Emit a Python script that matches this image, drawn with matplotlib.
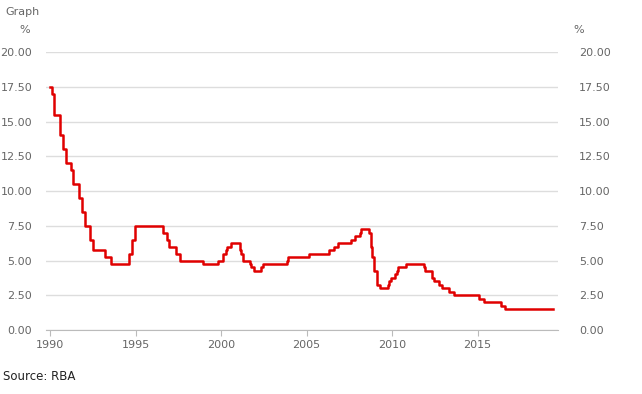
import pandas as pd
import matplotlib.pyplot as plt
import matplotlib.dates as mdates

# RBA cash rate target: dates of change and new rate (%)
ChangeDates = ['1990-01-01', '1990-02-15', '1990-04-04', '1990-08-02', '1990-10-15',
               '1990-12-18', '1991-04-04', '1991-05-16', '1991-09-03', '1991-11-06',
               '1992-01-08', '1992-05-06', '1992-07-08', '1993-03-23', '1993-07-30',
               '1994-08-17', '1994-10-24', '1994-12-14', '1996-07-31', '1996-11-06',
               '1996-12-11', '1997-05-23', '1997-07-30', '1998-12-02', '1999-11-03',
               '2000-02-02', '2000-04-05', '2000-05-03', '2000-08-02', '2001-02-07',
               '2001-03-07', '2001-04-04', '2001-09-05', '2001-10-03', '2001-12-05',
               '2002-05-08', '2002-06-05', '2003-11-05', '2003-12-03', '2005-03-02',
               '2006-05-03', '2006-08-09', '2006-11-08', '2007-08-08', '2007-11-07',
               '2008-02-06', '2008-03-05', '2008-09-03', '2008-10-08', '2008-11-05',
               '2008-12-03', '2009-02-04', '2009-04-08', '2009-10-07', '2009-11-04',
               '2009-12-02', '2010-03-03', '2010-04-07', '2010-05-05', '2010-11-03',
               '2011-11-02', '2011-12-07', '2012-05-02', '2012-06-06', '2012-10-03',
               '2012-12-05', '2013-05-08', '2013-08-07', '2015-02-04', '2015-05-06',
               '2016-05-04', '2016-08-03', '2019-05-31']
Rates = [17.5, 17.0, 15.5, 14.0, 13.0,
         12.0, 11.5, 10.5, 9.5, 8.5,
         7.5, 6.5, 5.75, 5.25, 4.75,
         5.5, 6.5, 7.5, 7.0, 6.5,
         6.0, 5.5, 5.0, 4.75, 5.0,
         5.5, 5.75, 6.0, 6.25, 5.75,
         5.5, 5.0, 4.75, 4.5, 4.25,
         4.5, 4.75, 5.0, 5.25, 5.5,
         5.75, 6.0, 6.25, 6.5, 6.75,
         7.0, 7.25, 7.0, 6.0, 5.25,
         4.25, 3.25, 3.0, 3.25, 3.5,
         3.75, 4.0, 4.25, 4.5, 4.75,
         4.5, 4.25, 3.75, 3.5, 3.25,
         3.0, 2.75, 2.5, 2.25, 2.0,
         1.75, 1.5, 1.5]
YTicks = [0, 2.5, 5, 7.5, 10, 12.5, 15, 17.5, 20]

TXT = '#666666'
RED = '#e00000'

dates = pd.to_datetime(ChangeDates)
ylabels = ['%.2f' % v for v in YTicks]

fig = plt.figure(figsize=(6.42, 3.94), dpi=100)
ax = fig.add_axes([0.0717, 0.1624, 0.7975, 0.7056])

ax.plot(dates, Rates, color=RED, lw=1.8, drawstyle='steps-post')

ax.set_ylim(0, 20)
ax.set_xlim(pd.Timestamp('1989-10-08'), pd.Timestamp('2019-09-13'))
ax.set_yticks(YTicks)
ax.set_yticklabels(ylabels)
ax.yaxis.grid(True, color='#dddddd', lw=1)
ax.set_axisbelow(True)

ax.xaxis.set_major_locator(mdates.YearLocator(5))
ax.xaxis.set_major_formatter(mdates.DateFormatter('%Y'))

for s in ['top', 'left', 'right']:
    ax.spines[s].set_visible(False)
ax.spines['bottom'].set_color('#bbbbbb')

ax.tick_params(axis='x', colors='#bbbbbb', length=4, labelcolor=TXT, labelsize=8, pad=3)
ax.tick_params(axis='y', length=0, labelcolor=TXT, labelsize=8, pad=10)

# right hand scale sits a bit further out
ax2 = ax.twinx()
ax2.set_ylim(0, 20)
ax2.set_yticks(YTicks)
ax2.set_yticklabels(ylabels)
ax2.tick_params(axis='y', length=0, labelcolor=TXT, labelsize=8, pad=15)
for s in ax2.spines.values():
    s.set_visible(False)

fig.text(5 / 642, 1 - 12 / 394, 'Graph', color=TXT, fontsize=8, va='center', ha='left')
fig.text(25 / 642, 1 - 30 / 394, '%', color=TXT, fontsize=8, va='center', ha='center')
fig.text(579 / 642, 1 - 30 / 394, '%', color=TXT, fontsize=8, va='center', ha='center')
fig.text(3 / 642, 1 - 376 / 394, 'Source: RBA', color='#222222', fontsize=8.5, va='center', ha='left')

plt.savefig('out.png', dpi=100)
